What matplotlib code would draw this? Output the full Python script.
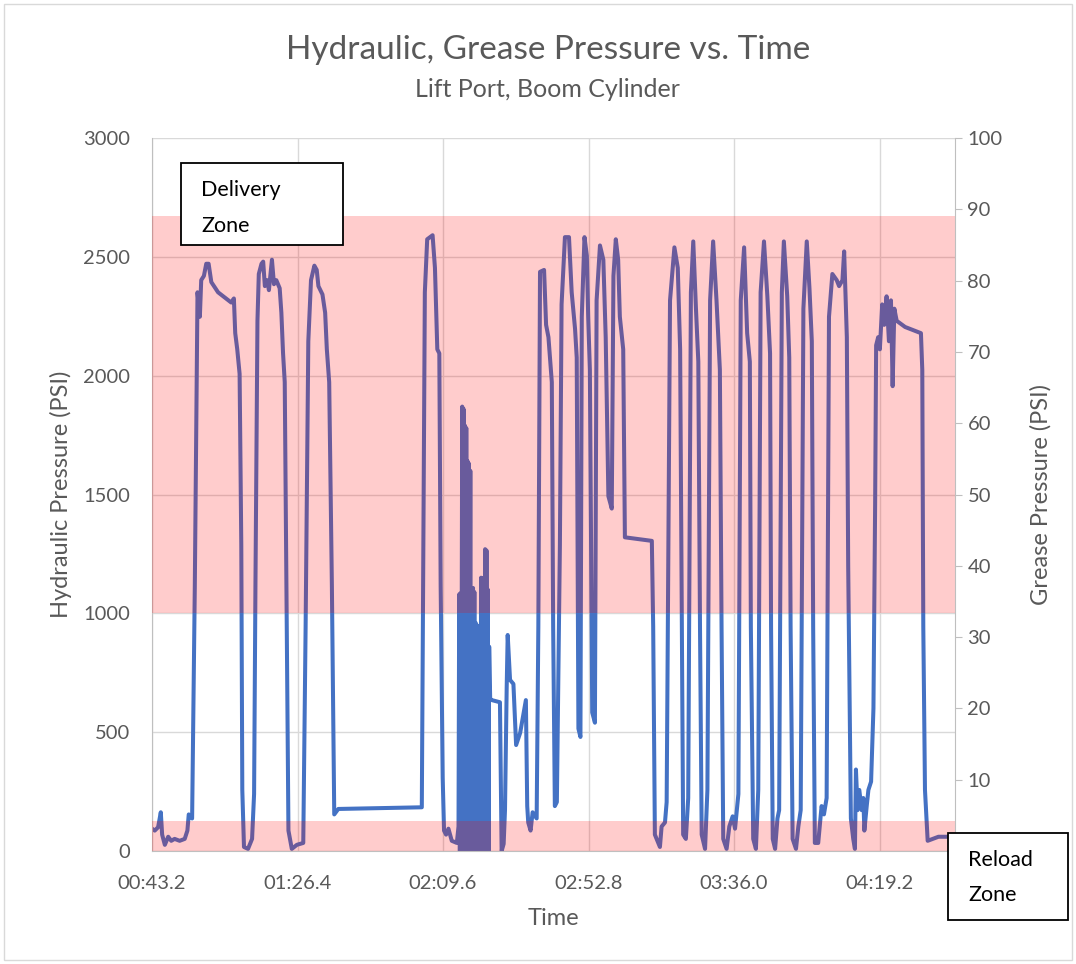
import matplotlib.pyplot as plt
import numpy as np
from matplotlib.patches import Rectangle
from matplotlib.ticker import FuncFormatter

plt.rcParams['font.family'] = ['Lato', 'DejaVu Sans']

# time in seconds, hydraulic pressure in PSI
time_s = [
    43.2, 44.0, 45.0, 45.8, 46.2, 47.0, 48.0, 48.9, 49.9, 51.4, 52.9, 53.7, 54.1, 55.1,
    55.9, 56.7, 57.4, 57.8, 58.6, 59.3, 60.0, 60.8, 62.8, 66.7, 67.5, 67.9, 68.5, 69.2,
    69.7, 70.0, 70.5, 71.7, 72.9, 73.5, 73.9, 74.5, 74.9, 75.7, 76.2, 76.7, 77.4, 77.9,
    78.8, 79.4, 80.1, 81.1, 81.6, 82.1, 82.6, 83.2, 83.7, 84.7, 86.2, 88.1, 88.8, 89.6,
    90.4, 91.4, 92.1, 92.6, 93.8, 94.6, 95.1, 95.8, 96.6, 97.3, 98.5, 123.3, 124.2,
    124.9, 126.5, 127.2, 127.9, 128.5, 128.9, 129.5, 129.9, 130.5, 131.2, 132.2, 133.7,
    134.2, 134.4, 134.6, 134.8, 135.0, 135.3, 135.5, 135.7, 135.9, 136.1, 136.3, 136.5,
    136.7, 136.9, 137.1, 137.3, 137.5, 137.7, 137.9, 138.1, 138.3, 138.5, 138.7, 138.9,
    139.1, 139.3, 139.5, 139.7, 139.9, 140.1, 140.3, 140.5, 140.7, 140.9, 141.1, 141.3,
    141.5, 141.7, 141.9, 142.1, 142.3, 142.5, 142.7, 142.9, 143.1, 143.3, 143.6, 144.1,
    146.5, 147.0, 147.6, 148.0, 148.5, 148.8, 149.5, 150.5, 151.3, 152.5, 154.2, 154.6,
    154.9, 155.6, 156.2, 157.4, 157.9, 158.4, 159.6, 160.2, 160.9, 161.9, 162.3, 162.8,
    163.4, 164.3, 164.8, 165.8, 167.0, 167.8, 168.8, 169.3, 169.8, 170.4, 170.8, 171.6,
    172.3, 172.7, 173.2, 173.9, 174.7, 175.2, 176.2, 177.2, 177.9, 178.7, 179.7, 180.2,
    180.9, 181.6, 182.1, 183.1, 183.6, 191.6, 192.0, 192.5, 194.0, 194.5, 195.5, 196.0,
    197.0, 198.3, 199.3, 200.0, 200.5, 200.9, 201.7, 202.4, 203.2, 203.9, 204.7, 205.4,
    205.9, 206.4, 207.4, 208.1, 208.9, 209.8, 210.8, 211.8, 212.3, 212.8, 213.8, 214.6,
    215.6, 216.3, 217.3, 218.0, 219.0, 219.9, 220.7, 221.0, 221.7, 222.5, 223.2, 223.9,
    224.9, 225.9, 226.7, 227.0, 227.5, 228.2, 228.9, 229.4, 230.2, 230.8, 231.8, 232.4,
    232.8, 233.4, 234.4, 235.1, 235.8, 236.6, 237.6, 238.4, 239.1, 239.5, 240.0, 241.0,
    242.0, 242.7, 243.5, 244.2, 245.2, 246.5, 247.2, 248.2, 248.7, 249.5, 249.9, 250.7,
    251.4, 251.9, 252.2, 252.7, 253.2, 253.9, 254.4, 254.7, 255.4, 255.9, 256.7, 257.4,
    257.9, 258.2, 258.8, 259.3, 260.0, 260.6, 261.3, 262.0, 262.6, 263.1, 263.6, 264.3,
    266.8, 271.5, 271.9, 272.2, 272.7, 273.5, 276.7, 281.6,
]
hydraulic_psi = [
    94, 86, 100, 163, 69, 26, 60, 43, 51, 43, 51, 86, 154, 137,
    1115, 2351, 2248, 2402, 2420, 2471, 2471, 2394, 2351, 2308, 2325, 2179, 2111, 2008,
    1287, 257, 17, 9, 51, 240, 1115, 2231, 2428, 2471, 2480, 2377, 2402, 2360,
    2488, 2385, 2402, 2368, 2265, 2094, 1973, 944, 86, 9, 26, 34, 944, 2145,
    2402, 2463, 2445, 2377, 2342, 2265, 2111, 1973, 1115, 154, 177, 184, 2351,
    2574, 2591, 2454, 2111, 2094, 1115, 309, 86, 69, 94, 43, 34,
    103, 1080, 0, 1085, 150, 1870, 0, 1860, 60, 1790, 0, 1780,
    200, 1640, 0, 1630, 400, 1600, 0, 1100, 0, 1107, 300, 1090,
    0, 960, 0, 950, 100, 944, 0, 940, 0, 1150, 50, 1140,
    0, 1150, 0, 1270, 100, 1265, 0, 1100, 0, 860, 640, 635,
    626, 0, 30, 172, 686, 909, 720, 703, 446, 497, 635, 189,
    120, 86, 163, 137, 944, 2437, 2445, 2214, 2162, 1973, 944, 189,
    206, 1287, 2300, 2583, 2583, 2351, 2197, 2076, 515, 480, 2248, 2583,
    2505, 2248, 2025, 583, 540, 2317, 2548, 2488, 2162, 1493, 1441, 2420,
    2574, 2488, 2248, 2111, 1320, 1305, 944, 69, 17, 103, 120, 206,
    2317, 2540, 2454, 2111, 944, 69, 51, 223, 2351, 2565, 2282, 2059,
    944, 69, 9, 257, 2317, 2565, 2317, 2025, 944, 51, 9, 103,
    146, 94, 240, 2317, 2540, 2179, 2059, 944, 51, 9, 257, 2351,
    2565, 2334, 2094, 944, 51, 9, 137, 172, 2351, 2565, 2334, 2076,
    944, 51, 9, 103, 172, 2282, 2565, 2368, 2145, 944, 34, 34,
    189, 154, 223, 2248, 2428, 2402, 2377, 2402, 2523, 2162, 1201, 137,
    51, 9, 343, 172, 257, 172, 223, 86, 189, 257, 292, 601,
    1459, 2128, 2162, 2111, 2300, 2214, 2334, 2145, 2317, 1956, 2282, 2231,
    2205, 2179, 2025, 944, 257, 43, 60, 60,
]

delivery_zone = (1000, 2670)   # PSI
reload_zone = (0, 125)         # PSI
x_ticks = [43.2, 86.4, 129.6, 172.8, 216.0, 259.2]
x_range = (43.2, 281.6)

grey = '#595959'
tick_fs = 14.5

def fmt_time(t, pos):
    m = int(round(t, 3) // 60)
    s = t - 60 * m
    return f"{m:02d}:{s:04.1f}"

fig = plt.figure(figsize=(10.76, 9.64), dpi=100)
fig.patches.append(Rectangle((0.004, 0.004), 0.992, 0.992, transform=fig.transFigure,
                             fill=False, edgecolor='#D9D9D9', lw=1))

ax = fig.add_axes([0.1413, 0.1172, 0.7462, 0.7396])
ax.plot(time_s, hydraulic_psi, color='#4472C4', lw=2.9, zorder=2, solid_joinstyle='round')
ax.axhspan(*delivery_zone, color='red', alpha=0.2, lw=0, zorder=3)
ax.axhspan(*reload_zone, color='red', alpha=0.2, lw=0, zorder=3)

ax.set_xlim(*x_range)
ax.set_ylim(0, 3000)
ax.set_yticks(np.arange(0, 3001, 500))
ax.set_xticks(x_ticks)
ax.xaxis.set_major_formatter(FuncFormatter(fmt_time))
ax.grid(True, color='#D9D9D9', lw=1)
ax.set_axisbelow(True)
ax.tick_params(axis='both', length=0, labelsize=tick_fs, labelcolor=grey)
ax.tick_params(axis='y', pad=16)
ax.tick_params(axis='x', pad=17)
for side in ['top', 'right']:
    ax.spines[side].set_visible(False)
for side in ['left', 'bottom']:
    ax.spines[side].set_color('#BFBFBF')
ax.set_ylabel('Hydraulic Pressure (PSI)', fontsize=17, color=grey, labelpad=8)
ax.set_xlabel('Time', fontsize=17, color=grey, labelpad=12)

ax2 = ax.twinx()
ax2.set_ylim(0, 100)
ax2.set_yticks(np.arange(0, 101, 10))
ax2.set_yticklabels([''] + [str(v) for v in range(10, 101, 10)])
ax2.tick_params(axis='y', length=5, color='#BFBFBF', labelsize=tick_fs, labelcolor=grey, pad=4)
for side in ['top', 'left', 'bottom']:
    ax2.spines[side].set_visible(False)
ax2.spines['right'].set_color('#BFBFBF')
ax2.set_ylabel('Grease Pressure (PSI)', fontsize=17, color=grey, rotation=90, labelpad=20)

fig.text(0.509, 0.948, 'Hydraulic, Grease Pressure vs. Time', ha='center', va='center',
         fontsize=24, color=grey)
fig.text(0.509, 0.907, 'Lift Port, Boom Cylinder', ha='center', va='center',
         fontsize=18, color=grey)

# annotation boxes
fig.patches.append(Rectangle((0.168, 0.746), 0.151, 0.085, transform=fig.transFigure,
                             facecolor='white', edgecolor='black', lw=1.3, zorder=5))
fig.text(0.187, 0.803, 'Delivery', fontsize=15.5, va='center', zorder=6)
fig.text(0.187, 0.766, 'Zone', fontsize=15.5, va='center', zorder=6)

fig.patches.append(Rectangle((0.881, 0.046), 0.112, 0.090, transform=fig.transFigure,
                             facecolor='white', edgecolor='black', lw=1.3, zorder=5))
fig.text(0.900, 0.108, 'Reload', fontsize=15.5, va='center', zorder=6)
fig.text(0.900, 0.072, 'Zone', fontsize=15.5, va='center', zorder=6)

fig.savefig('out.png', dpi=100)
